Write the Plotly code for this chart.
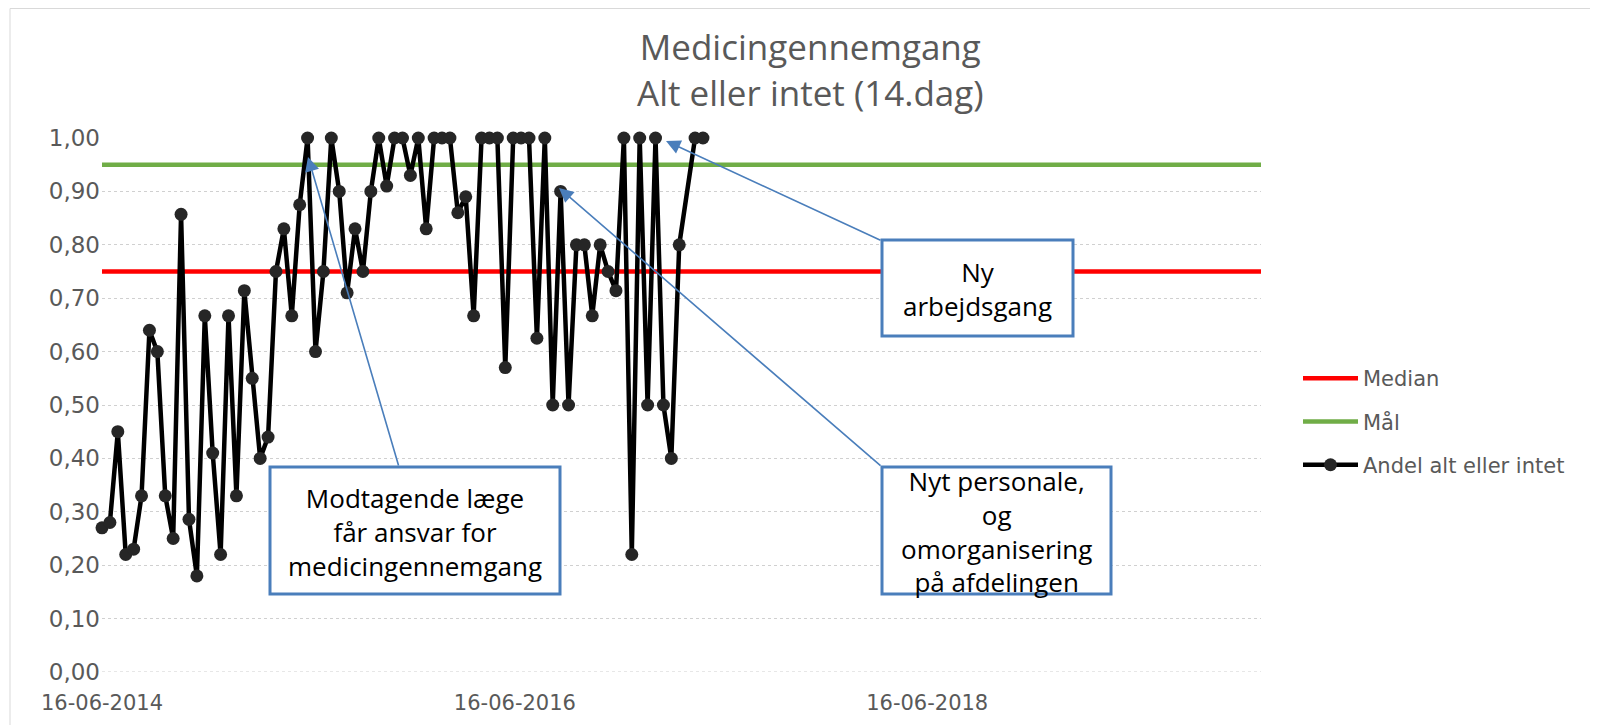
import plotly.graph_objects as go

# ---------------- data ----------------
dates = [
    "2014-06-16", "2014-06-30", "2014-07-14", "2014-07-28", "2014-08-11", "2014-08-25",
    "2014-09-08", "2014-09-22", "2014-10-06", "2014-10-20", "2014-11-03", "2014-11-17",
    "2014-12-01", "2014-12-15", "2014-12-29", "2015-01-12", "2015-01-26", "2015-02-09",
    "2015-02-23", "2015-03-09", "2015-03-23", "2015-04-06", "2015-04-20", "2015-05-04",
    "2015-05-18", "2015-06-01", "2015-06-15", "2015-06-29", "2015-07-13", "2015-07-27",
    "2015-08-10", "2015-08-24", "2015-09-07", "2015-09-21", "2015-10-05", "2015-10-19",
    "2015-11-02", "2015-11-16", "2015-11-30", "2015-12-14", "2015-12-28", "2016-01-11",
    "2016-01-25", "2016-02-08", "2016-02-22", "2016-03-07", "2016-03-21", "2016-04-04",
    "2016-04-18", "2016-05-02", "2016-05-16", "2016-05-30", "2016-06-13", "2016-06-27",
    "2016-07-11", "2016-07-25", "2016-08-08", "2016-08-22", "2016-09-05", "2016-09-19",
    "2016-10-03", "2016-10-17", "2016-10-31", "2016-11-14", "2016-11-28", "2016-12-12",
    "2016-12-26", "2017-01-09", "2017-01-23", "2017-02-06", "2017-02-20", "2017-03-06",
    "2017-03-20", "2017-04-03", "2017-05-01", "2017-05-15",
]
andel = [
    0.27, 0.28, 0.45, 0.22, 0.23, 0.33,
    0.64, 0.60, 0.33, 0.25, 0.857, 0.286,
    0.18, 0.667, 0.41, 0.22, 0.667, 0.33,
    0.714, 0.55, 0.40, 0.44, 0.75, 0.83,
    0.667, 0.875, 1.00, 0.60, 0.75, 1.00,
    0.90, 0.71, 0.83, 0.75, 0.90, 1.00,
    0.91, 1.00, 1.00, 0.93, 1.00, 0.83,
    1.00, 1.00, 1.00, 0.86, 0.89, 0.667,
    1.00, 1.00, 1.00, 0.57, 1.00, 1.00,
    1.00, 0.625, 1.00, 0.50, 0.90, 0.50,
    0.80, 0.80, 0.667, 0.80, 0.75, 0.714,
    1.00, 0.22, 1.00, 0.50, 1.00, 0.50,
    0.40, 0.80, 1.00, 1.00,
]
median_value = 0.75
maal_value = 0.95
x_axis_start = "2014-06-16"
x_axis_end = "2020-01-28"
x_tick_dates = ["2014-06-16", "2016-06-16", "2018-06-16"]

series_names = ["Median", "Mål", "Andel alt eller intet"]
title_text = "Medicingennemgang<br>Alt eller intet (14.dag)"
box_texts = [
    "Modtagende læge<br>får ansvar for<br>medicingennemgang",
    "Ny<br>arbejdsgang",
    "Nyt personale,<br>og<br>omorganisering<br>på afdelingen",
]

# ---------------- layout helpers (page pixel -> paper) ----------------
# the html body has an 8px default margin, so the figure origin sits at (8, 8)
OFF = 8
PAGE_W, PAGE_H = 1598, 725
W, H = PAGE_W - OFF, PAGE_H - OFF
PL, PR, PT, PB = 102, 1261, 138, 672   # plot area in page pixels


def fx(px):
    return (px - PL) / (PR - PL)


def fy(py):
    return (PB - py) / (PB - PT)


GRAY = "#595959"
BLUE = "#4a7ebb"

fig = go.Figure()
fig.add_trace(go.Scatter(
    x=[x_axis_start, x_axis_end], y=[median_value, median_value],
    mode="lines", name=series_names[0], legendgroup="a",
    line=dict(color="#ff0000", width=4.5), hoverinfo="skip",
))
fig.add_trace(go.Scatter(
    x=[x_axis_start, x_axis_end], y=[maal_value, maal_value],
    mode="lines", name=series_names[1], legendgroup="b",
    line=dict(color="#70ad47", width=4.5), hoverinfo="skip",
))
fig.add_trace(go.Scatter(
    x=dates, y=andel, mode="lines+markers", name=series_names[2], legendgroup="c",
    line=dict(color="#000000", width=4.5),
    marker=dict(color="#262626", size=13, line=dict(width=0)),
    cliponaxis=False,
))

shapes = []
annotations = []

# chart-area border (top and left edges visible)
shapes.append(dict(type="rect", xref="paper", yref="paper",
                   x0=fx(10), x1=fx(1591), y0=fy(760), y1=fy(8.5),
                   line=dict(color="#d9d9d9", width=1), layer="below"))
# gridline at 0
shapes.append(dict(type="line", xref="paper", yref="y", x0=0, x1=1, y0=0, y1=0,
                   line=dict(color="#d0d0d0", width=1.2, dash="dot"), layer="below"))

# title (two lines)
annotations.append(dict(text=title_text, xref="paper", yref="paper",
                        x=fx(810), y=fy(70), xanchor="center", yanchor="middle",
                        align="center", showarrow=False,
                        font=dict(family="Open Sans", size=35, color=GRAY)))

# callout boxes
boxes = [(270, 560, 467, 594), (882, 1073, 240, 336), (882, 1111, 467, 594)]
for (x0, x1, y0, y1), txt in zip(boxes, box_texts):
    shapes.append(dict(type="rect", xref="paper", yref="paper",
                       x0=fx(x0), x1=fx(x1), y0=fy(y1), y1=fy(y0),
                       line=dict(color=BLUE, width=3), fillcolor="white", layer="above"))
    annotations.append(dict(text=txt, xref="paper", yref="paper",
                            x=fx((x0 + x1) / 2), y=fy((y0 + y1) / 2 + 1),
                            xanchor="center", yanchor="middle", align="center",
                            showarrow=False,
                            font=dict(family="Open Sans", size=26, color="#000000")))

# arrows (head, tail) in page pixels
arrows = [((308, 157), (399, 467)), ((559, 188), (882, 467)), ((666, 141), (882, 241))]
for (hx, hy), (tx, ty) in arrows:
    annotations.append(dict(text="", xref="paper", yref="paper", x=fx(hx), y=fy(hy),
                            ax=tx - hx, ay=ty - hy, axref="pixel", ayref="pixel",
                            showarrow=True, arrowhead=2, arrowsize=1.8, arrowwidth=1.6,
                            arrowcolor=BLUE, standoff=0, startstandoff=0))

fig.update_layout(
    width=W, height=H, autosize=False,
    margin=dict(l=PL - OFF, r=W - (PR - OFF), t=PT - OFF, b=H - (PB - OFF), pad=0),
    paper_bgcolor="white", plot_bgcolor="white",
    separators=",.",
    showlegend=True,
    legend=dict(x=fx(1298), y=fy(358), xanchor="left", yanchor="top",
                font=dict(family="DejaVu Sans", size=21, color=GRAY),
                itemwidth=55,
                tracegroupgap=13, bgcolor="rgba(0,0,0,0)", itemclick=False),
    shapes=shapes, annotations=annotations,
    xaxis=dict(type="date", range=[x_axis_start, x_axis_end],
               tickvals=x_tick_dates, tickformat="%d-%m-%Y",
               showgrid=False, zeroline=False, showline=False, ticks="",
               ticklabelstandoff=16, automargin=False,
               tickfont=dict(family="DejaVu Sans", size=21, color=GRAY)),
    yaxis=dict(range=[0, 1], dtick=0.1, tick0=0, tickformat=".2f",
               showgrid=True, gridcolor="#d0d0d0", griddash="dot", gridwidth=1.2,
               zeroline=False, showline=False, ticks="", ticklabelstandoff=1,
               automargin=False,
               tickfont=dict(family="DejaVu Sans", size=23, color=GRAY)),
)

fig.write_html("out.html")
